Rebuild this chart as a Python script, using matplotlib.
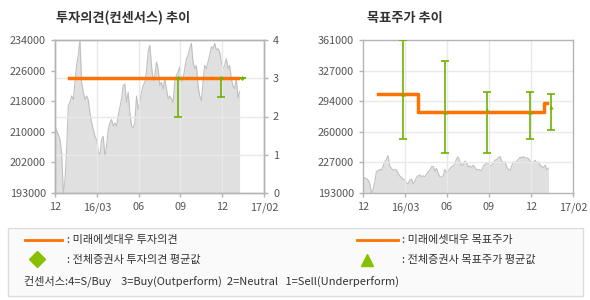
import numpy as np
import matplotlib
matplotlib.use("Agg")
import matplotlib.pyplot as plt
from matplotlib.lines import Line2D
from matplotlib.patches import Rectangle

plt.rcParams['font.family'] = ['Noto Sans CJK KR', 'DejaVu Sans']

# stock price (daily, roughly), from 15/12 to 17/01
price = [210900, 209600, 208700, 207300, 203700, 193000, 196400, 204600, 216400, 217300,
         219000, 218000, 222700, 227200, 230000, 234000, 222700, 220000, 218000, 219000,
         218000, 214500, 211800, 210000, 208200, 207300, 204100, 203200, 207300, 208200,
         202800, 205500, 210000, 211800, 212700, 210900, 211800, 210900, 213600, 215900,
         218200, 221800, 222200, 217300, 220000, 214500, 210900, 210500, 211800, 219000,
         215400, 217300, 220000, 221800, 222700, 225400, 230800, 232600, 227200, 223100,
         224500, 228100, 226300, 221800, 222700, 220900, 223600, 220900, 218200, 219000,
         218200, 217300, 222700, 224500, 225400, 226800, 222700, 223600, 226300, 229000,
         229900, 231700, 233100, 228100, 226300, 227200, 221800, 219000, 217700, 222700,
         227200, 226300, 228100, 229900, 232200, 231700, 233100, 231300, 231700, 230800,
         228100, 226300, 227200, 229000, 226300, 227200, 223600, 221800, 220900, 223600,
         218500, 220200]
price_end = 13.25

# investment opinion (mirae) and consensus
opinion_x = [1.0, 13.1]
opinion_y = [3, 3]
cons_x = [8.85, 11.9, 13.4]
cons_avg = [3, 3, 3]
cons_min = [2, 2.5, 3]
cons_max = [3, 3, 3]

# target price (mirae) and consensus
target_x = [1.07, 3.93, 12.93, 13.14]
target_y = [301700, 282000, 291700, 291700]
tcons_x = [2.86, 5.88, 8.88, 11.95, 13.43]
tcons_avg = [301500, 282000, 284200, 282000, 287600]
tcons_min = [252300, 236800, 236800, 252300, 262700]
tcons_max = [361000, 338000, 303500, 303500, 302000]

xticks = [0, 3, 6, 9, 12, 15]
xlabels = ['12', '16/03', '06', '09', '12', '17/02']
left_ticks = ['193000', '202000', '210000', '218000', '226000', '234000']
right_ticks = ['193000', '227000', '260000', '294000', '327000', '361000']

ORANGE = '#ff7200'
GREEN = '#6fb300'
GRID = '#e9e9e9'
SPINE = '#b4b4b4'
TXT = '#555555'
FILL = '#e0e0e0'
PLINE = '#c0c0c0'

fig = plt.figure(figsize=(5.9, 3.0), dpi=100)
fig.patch.set_facecolor('white')


def style(ax):
    for s in ax.spines.values():
        s.set_color(SPINE)
        s.set_linewidth(1.0)
    ax.tick_params(colors=SPINE, labelcolor=TXT, labelsize=7.8, length=3, width=1)
    ax.set_xlim(0, 15)
    ax.set_xticks(xticks)
    ax.set_xticklabels(xlabels)


px = np.linspace(0, price_end, len(price))

# ---- left: opinion
ax1 = fig.add_axes([55 / 590, 107 / 300, 209 / 590, 153 / 300])
ax1.fill_between(px, 193000, price, color=FILL, lw=0, zorder=1)
ax1.plot(px, price, color=PLINE, lw=0.8, zorder=1.5)
ax1.set_ylim(193000, 234000)
ax1.set_yticks(np.linspace(193000, 234000, 6))
ax1.set_yticklabels(left_ticks)
for m in xticks[1:-1]:
    ax1.axvline(m, color=GRID, lw=1, zorder=2)
style(ax1)

ax1b = ax1.twinx()
ax1b.set_ylim(0, 4)
ax1b.set_yticks([0, 1, 2, 3, 4])
for v in [1, 2, 3]:
    ax1b.axhline(v, color=GRID, lw=1, zorder=0)
ax1b.errorbar(cons_x, cons_avg,
              yerr=[np.subtract(cons_avg, cons_min), np.subtract(cons_max, cons_avg)],
              fmt='none', ecolor=GREEN, capsize=3.2, elinewidth=1.2, capthick=1.2, zorder=3)
ax1b.plot(opinion_x, opinion_y, color=ORANGE, lw=2.5, zorder=4)
ax1b.plot(cons_x, cons_avg, 'D', color=GREEN, ms=2.5, mew=0, zorder=5)
style(ax1b)
ax1b.set_zorder(ax1.get_zorder() + 1)
ax1b.patch.set_visible(False)

fig.text(56 / 590, 1 - 18 / 300, '투자의견(컨센서스) 추이', fontsize=9.5, fontweight='bold',
         color='#333333', va='center')

# ---- right: target price
ax2 = fig.add_axes([363 / 590, 107 / 300, 210 / 590, 153 / 300])
ax2.fill_between(px, 193000, price, color=FILL, lw=0, zorder=1)
ax2.plot(px, price, color=PLINE, lw=0.8, zorder=1.5)
ax2.set_ylim(193000, 361000)
yt = np.linspace(193000, 361000, 6)
ax2.set_yticks(yt)
ax2.set_yticklabels(right_ticks)
for v in yt[1:-1]:
    ax2.axhline(v, color=GRID, lw=1, zorder=2)
for m in xticks[1:-1]:
    ax2.axvline(m, color=GRID, lw=1, zorder=2)
ax2.errorbar(tcons_x, tcons_avg,
             yerr=[np.subtract(tcons_avg, tcons_min), np.subtract(tcons_max, tcons_avg)],
             fmt='none', ecolor=GREEN, capsize=3.2, elinewidth=1.2, capthick=1.2, zorder=3)
ax2.plot(target_x, target_y, color=ORANGE, lw=2.5, drawstyle='steps-post', zorder=4)
ax2.plot(tcons_x, tcons_avg, '^', color=GREEN, ms=3, mew=0, zorder=5)
style(ax2)

fig.text(367 / 590, 1 - 18 / 300, '목표주가 추이', fontsize=9.5, fontweight='bold',
         color='#333333', va='center')

# ---- legend box
W, H = 590.0, 300.0
fig.add_artist(Rectangle((8 / W, 1 - 296 / H), 575 / W, 68 / H, transform=fig.transFigure,
                         facecolor='#fafafa', edgecolor='#dddddd', lw=1))
fig.add_artist(Line2D([25 / W, 62 / W], [1 - 240 / H] * 2, color=ORANGE, lw=2))
fig.add_artist(Line2D([357 / W, 398 / W], [1 - 240 / H] * 2, color=ORANGE, lw=2))
fig.add_artist(Line2D([37 / W], [1 - 259 / H], marker='D', color='#88c000', ms=8, lw=0))
fig.add_artist(Line2D([367 / W], [1 - 260 / H], marker='^', color='#88c000', ms=8, lw=0))
lkw = dict(fontsize=8, color='#333333', va='center')
fig.text(67 / W, 1 - 240 / H, ': 미래에셋대우 투자의견', **lkw)
fig.text(402 / W, 1 - 240 / H, ': 미래에셋대우 목표주가', **lkw)
fig.text(67 / W, 1 - 260 / H, ': 전체증권사 투자의견 평균값', **lkw)
fig.text(402 / W, 1 - 260 / H, ': 전체증권사 목표주가 평균값', **lkw)
fig.text(24 / W, 1 - 281 / H,
         '컨센서스:4=S/Buy    3=Buy(Outperform)  2=Neutral   1=Sell(Underperform)', **lkw)

fig.savefig('out.png', dpi=100, facecolor='white')
